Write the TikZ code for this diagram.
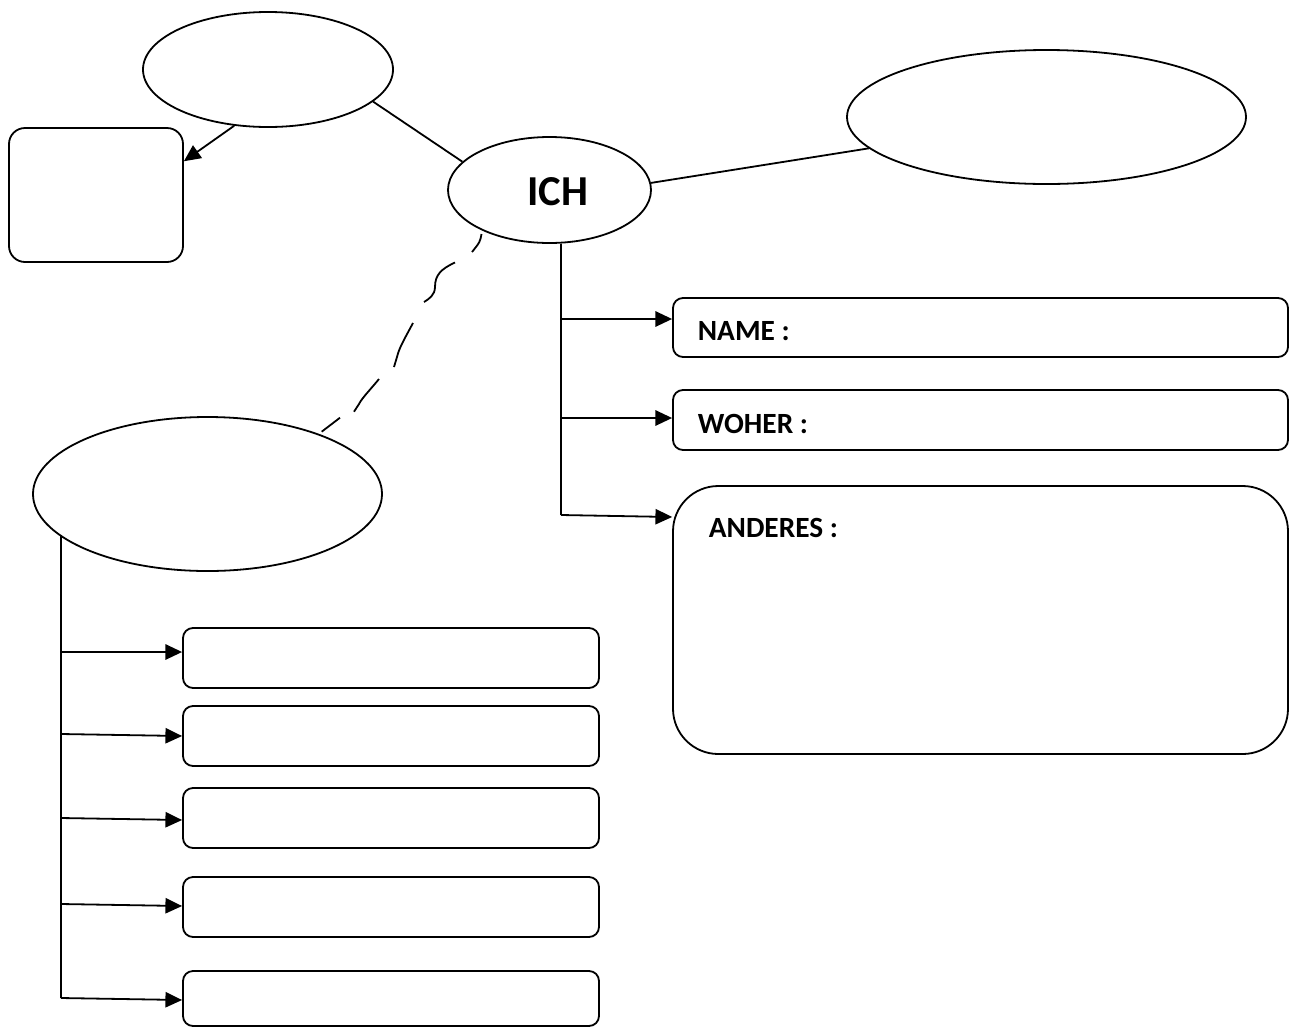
\documentclass[tikz,border=0pt]{standalone}
\usepackage{fontspec}
\setmainfont{Carlito}
\usetikzlibrary{shapes.geometric,arrows.meta,calc}
\begin{document}
\begin{tikzpicture}[x=0.75pt,y=-0.75pt,line width=1.35pt,
  oval/.style={draw,ellipse,inner sep=0pt},
  rbox/.style={draw,rectangle,rounded corners=7.5pt,inner sep=0pt},
  arr/.style={-{Triangle[length=12.5pt,width=11.5pt]}},
  lab/.style={font=\bfseries\fontsize{22}{26}\selectfont,anchor=base west,inner sep=0pt}]
\useasboundingbox (0,0) rectangle (1296,1029);

% ellipses
\node[oval,minimum width=187.5pt,minimum height=86.25pt] (e1) at (268,69.5) {};
\node[oval,minimum width=152.25pt,minimum height=79.5pt] (ich) at (549.5,190) {};
\node[inner sep=0pt,font=\bfseries\fontsize{32}{36}\selectfont] (ichtext) at (558,191.5) {ICH};
\node[oval,minimum width=299.25pt,minimum height=100.5pt] (e2) at (1046.5,117) {};
\node[oval,minimum width=261.75pt,minimum height=115.5pt] (e3) at (207.5,494) {};

% boxes
\node[rbox,rounded corners=12pt,minimum width=130.5pt,minimum height=100.5pt] (r1) at (96,195) {};
\node[rbox,minimum width=461.25pt,minimum height=44.25pt] (name) at (980.5,327.5) {};
\node[rbox,minimum width=461.25pt,minimum height=45pt] (woher) at (980.5,420) {};
\node[rbox,rounded corners=34pt,minimum width=461.25pt,minimum height=201pt] (anderes) at (980.5,620) {};
\node[lab] (nametext) at (697,340) {NAME :};
\node[lab] (wohertext) at (697,433) {WOHER :};
\node[lab] (anderestext) at (708,537) {ANDERES :};

\node[rbox,minimum width=312pt,minimum height=45pt] (l1) at (391,658) {};
\node[rbox,minimum width=312pt,minimum height=45pt] (l2) at (391,736) {};
\node[rbox,minimum width=312pt,minimum height=45pt] (l3) at (391,818) {};
\node[rbox,minimum width=312pt,minimum height=45pt] (l4) at (391,907) {};
\node[rbox,minimum width=312pt,minimum height=41.25pt] (l5) at (391,998.5) {};

% connectors
\draw[arr] (e1.239) -- (r1.21);
\draw (e1.343) -- (ich.162);
\draw (ich.4) -- (e2.190);

% right trunk
\coordinate (a0) at ($(ich.south)+(11.5,0)$);
\coordinate (a1) at (561,319);
\coordinate (a2) at (561,418);
\coordinate (a3) at (561,515);
\draw (a0) -- (a3);
\draw[arr] (a1) -- (a1 -| name.west);
\draw[arr] (a2) -- (a2 -| woher.west);
\draw[arr] (a3) -- ($(a3 -| anderes.west)+(0,2)$);

% left trunk
\coordinate (b0) at (61,535);
\coordinate (b1) at (61,652);
\coordinate (b2) at (61,734);
\coordinate (b3) at (61,818);
\coordinate (b4) at (61,904);
\coordinate (b5) at (61,998);
\draw (b0) -- (b5);
\draw[arr] (b1) -- (b1 -| l1.west);
\draw[arr] (b2) -- ($(b2 -| l2.west)+(0,2)$);
\draw[arr] (b3) -- ($(b3 -| l3.west)+(0,2)$);
\draw[arr] (b4) -- ($(b4 -| l4.west)+(0,2)$);
\draw[arr] (b5) -- ($(b5 -| l5.west)+(0,2)$);

% hand-drawn dashed connector between ICH and lower ellipse
\draw (481.5,234) .. controls (480,242) .. (472,252)
      (455,262.5) .. controls (441,269) and (435,275) .. (435,287) .. controls (435,295) and (429,299) .. (424,302)
      (413,323) .. controls (405,338) and (399,348) .. (397,357) -- (394,367)
      (379,379) .. controls (370,390) and (362,398) .. (359,404) -- (354,411.7)
      (340,417.7) -- (321.7,431.7);
\end{tikzpicture}
\end{document}
